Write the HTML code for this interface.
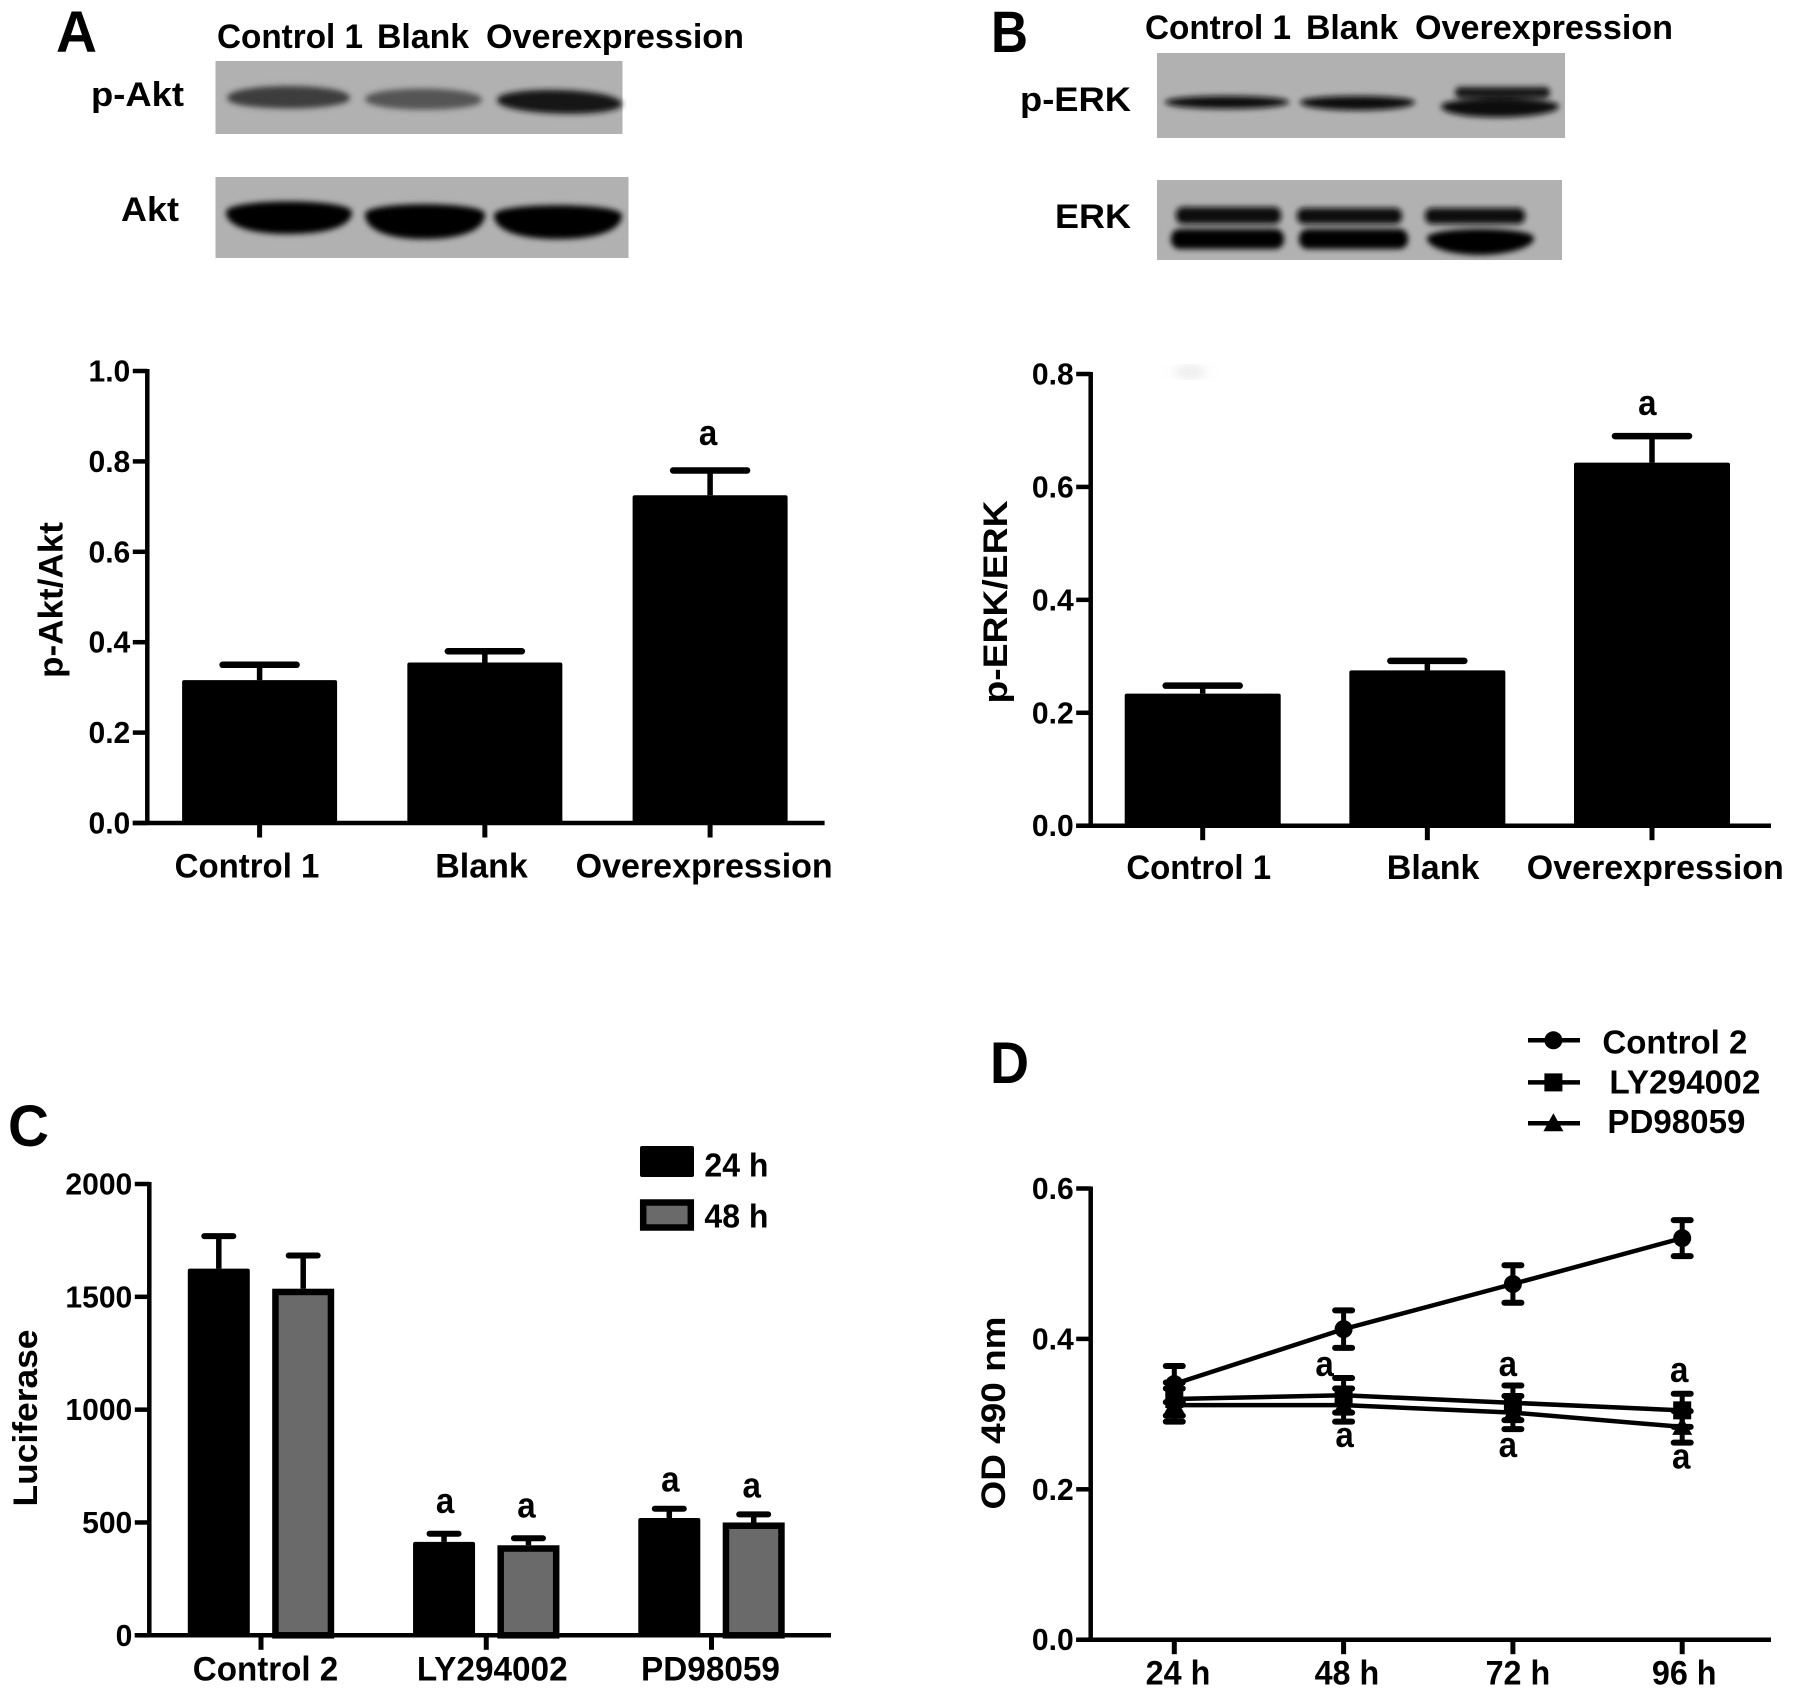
<!DOCTYPE html>
<html lang="en">
<head>
<meta charset="utf-8">
<title>Akt and ERK western blots, luciferase and OD 490 nm results</title>
<style>
html,body{margin:0;padding:0;background:#fff;}
svg{display:block;}
text{font-family:"Liberation Sans",Arial,sans-serif;font-weight:700;fill:#000;}
.panel{font-size:58px;}
.lbl{font-size:34px;}
.ytitle{font-size:34px;}
</style>
</head>
<body>
<svg id="figure" xmlns="http://www.w3.org/2000/svg" width="1795" height="1697" viewBox="0 0 1795 1697">
<defs>
<filter id="blur" x="-20%" y="-60%" width="140%" height="220%"><feGaussianBlur stdDeviation="3"/></filter>
<filter id="softblur" x="-50%" y="-50%" width="200%" height="200%"><feGaussianBlur stdDeviation="6"/></filter>
</defs>
<rect width="1795" height="1697" fill="#fff"/>

<text class="panel" x="56" y="52" textLength="41" lengthAdjust="spacingAndGlyphs">A</text>
<text class="panel" x="991" y="52" textLength="37" lengthAdjust="spacingAndGlyphs">B</text>
<text class="panel" x="8" y="1146" textLength="41" lengthAdjust="spacingAndGlyphs">C</text>
<text class="panel" x="990" y="1083" textLength="39" lengthAdjust="spacingAndGlyphs">D</text>

<g>
<text class="lbl" x="217" y="48" textLength="146" lengthAdjust="spacingAndGlyphs">Control 1</text>
<text class="lbl" x="377" y="48" textLength="92" lengthAdjust="spacingAndGlyphs">Blank</text>
<text class="lbl" x="486" y="48" textLength="258" lengthAdjust="spacingAndGlyphs">Overexpression</text>
</g>
<text class="lbl" x="91" y="106" textLength="93" lengthAdjust="spacingAndGlyphs">p-Akt</text>
<text class="lbl" x="121" y="221" textLength="58" lengthAdjust="spacingAndGlyphs">Akt</text>

<g>
<rect x="215.5" y="61" width="407" height="73" fill="#b1b1b1"/>
<g filter="url(#blur)">
<path d="M227 98C227 82 350 82 350 98C350 112 227 112 227 98Z" fill="#3d3d3d"/>
<path d="M365 99C365 85 482 85 482 100C482 113 365 113 365 99Z" fill="#555"/>
<path d="M497 100C497 85 620 87 622 104C622 119 497 116 497 100Z" fill="#151515"/>
</g>
</g>
<g>
<rect x="215.5" y="177" width="413" height="81" fill="#b1b1b1"/>
<g filter="url(#blur)">
<path d="M226 212C226 198 351 198 352 212C352 226 328 234 288 234C250 234 226 226 226 212Z" fill="#030303"/>
<path d="M365 214C365 201 484 201 485 214C485 230 462 239 424 239C388 239 365 230 365 214Z" fill="#000"/>
<path d="M494 215C494 202 621 202 622 215C622 230 598 239 558 239C518 239 494 230 494 215Z" fill="#030303"/>
</g>
</g>

<g>
<text class="lbl" x="1145" y="39" textLength="146" lengthAdjust="spacingAndGlyphs">Control 1</text>
<text class="lbl" x="1306" y="39" textLength="92" lengthAdjust="spacingAndGlyphs">Blank</text>
<text class="lbl" x="1415" y="39" textLength="258" lengthAdjust="spacingAndGlyphs">Overexpression</text>
</g>
<text class="lbl" x="1020" y="111" textLength="111" lengthAdjust="spacingAndGlyphs">p-ERK</text>
<text class="lbl" x="1055" y="228" textLength="76" lengthAdjust="spacingAndGlyphs">ERK</text>

<g>
<rect x="1157" y="53" width="408" height="85" fill="#b1b1b1"/>
<g filter="url(#blur)">
<path d="M1165 102C1165 94 1288 94 1289 102C1289 111 1165 111 1165 102Z" fill="#111"/>
<path d="M1300 102C1300 94 1414 94 1415 102C1415 113 1300 113 1300 102Z" fill="#111"/>
<rect x="1455" y="87" width="95" height="11" rx="5" fill="#141414"/>
<path d="M1441 106C1441 96 1558 96 1559 106C1559 120 1441 122 1441 106Z" fill="#090909"/>
</g>
</g>
<g>
<rect x="1157" y="180" width="405" height="80" fill="#b1b1b1"/>
<g filter="url(#blur)">
<rect x="1176" y="207" width="105" height="17" rx="7" fill="#080808"/>
<rect x="1171" y="229" width="113" height="20" rx="9" fill="#030303"/>
<rect x="1297" y="208" width="105" height="16" rx="7" fill="#080808"/>
<rect x="1299" y="229" width="109" height="20" rx="9" fill="#030303"/>
<rect x="1425" y="208" width="100" height="16" rx="7" fill="#080808"/>
<path d="M1427 238C1427 226 1534 226 1534 238C1534 248 1505 255 1480 255C1452 255 1427 248 1427 238Z" fill="#030303"/>
</g>
</g>
<ellipse cx="1190" cy="372" rx="16" ry="4" fill="#ddd" filter="url(#softblur)"/>

<text class="ytitle" transform="translate(62.5 600) rotate(-90)" text-anchor="middle" textLength="156" lengthAdjust="spacingAndGlyphs">p-Akt/Akt</text>
<text class="ytitle" transform="translate(1007 602) rotate(-90)" text-anchor="middle" textLength="203" lengthAdjust="spacingAndGlyphs">p-ERK/ERK</text>
<text class="ytitle" transform="translate(37 1418) rotate(-90)" text-anchor="middle" textLength="177" lengthAdjust="spacingAndGlyphs">Luciferase</text>
<text class="ytitle" transform="translate(1005 1413) rotate(-90)" text-anchor="middle" textLength="193" lengthAdjust="spacingAndGlyphs">OD 490 nm</text>

<g id="chart-a"></g>
<g id="chart-b"></g>
<g id="chart-c"></g>
<g id="chart-d"></g>
</svg>

<script>
// Panel A
const aCategories = ['Control 1', 'Blank', 'Overexpression'];
const aMeans = [0.316, 0.355, 0.725];
const aErrors = [0.034, 0.025, 0.055];
const aTicks = [0, 0.2, 0.4, 0.6, 0.8, 1.0];
const aTickLabels = ['0.0', '0.2', '0.4', '0.6', '0.8', '1.0'];
const aSignificance = ['', '', 'a'];

// Panel B
const bCategories = ['Control 1', 'Blank', 'Overexpression'];
const bMeans = [0.234, 0.275, 0.643];
const bErrors = [0.014, 0.017, 0.047];
const bTicks = [0, 0.2, 0.4, 0.6, 0.8];
const bTickLabels = ['0.0', '0.2', '0.4', '0.6', '0.8'];
const bSignificance = ['', '', 'a'];

// Panel C
const cCategories = ['Control 2', 'LY294002', 'PD98059'];
const cMeans24h = [1625, 414, 520];
const cErrors24h = [144, 36, 41];
const cMeans48h = [1536, 399, 500];
const cErrors48h = [147, 31, 36];
const cTicks = [0, 500, 1000, 1500, 2000];
const cTickLabels = ['0', '500', '1000', '1500', '2000'];
const cSignificance24h = ['', 'a', 'a'];
const cSignificance48h = ['', 'a', 'a'];

// Panel D
const dCategories = ['24 h', '48 h', '72 h', '96 h'];
const dControl2 = [0.34, 0.413, 0.473, 0.534];
const dControl2Errors = [0.024, 0.025, 0.025, 0.024];
const dLY294002 = [0.32, 0.325, 0.315, 0.305];
const dLY294002Errors = [0.022, 0.023, 0.023, 0.022];
const dPD98059 = [0.312, 0.312, 0.302, 0.283];
const dPD98059Errors = [0.022, 0.022, 0.022, 0.021];
const dTicks = [0, 0.2, 0.4, 0.6];
const dTickLabels = ['0.0', '0.2', '0.4', '0.6'];

const NS = 'http://www.w3.org/2000/svg';

function mk(parent, tag, name, props) {
  const el = document.createElementNS(NS, tag);
  
  
  for (const k in props) el.setAttribute(k, props[k]);
  parent.appendChild(el);
  return el;
}
function linear(d0, d1, r0, r1) {
  return v => r0 + (v - d0) * (r1 - r0) / (d1 - d0);
}
function band(first, step) {
  return i => first + i * step;
}
function txt(parent, name, str, x, y, size, anchor, squeeze) {
  const t = mk(parent, 'text', name, {x: x, y: y, 'font-size': size, 'text-anchor': anchor});
  t.textContent = str;
  if (squeeze && squeeze !== 1) {
    t.setAttribute('textLength', t.getComputedTextLength() * squeeze);
    t.setAttribute('lengthAdjust', 'spacingAndGlyphs');
  }
  return t;
}
function sigLabel(parent, x, y) {
  return txt(parent, 'significance-label', 'a', x, y, 36, 'middle', 0.92);
}
function line(parent, name, x1, y1, x2, y2, w, cap) {
  return mk(parent, 'line', name, {x1: x1, y1: y1, x2: x2, y2: y2, stroke: '#000', 'stroke-width': w, 'stroke-linecap': cap || 'butt'});
}
function yAxis(g, axisX, top, bottom, y, ticks, labels) {
  line(g, 'y-axis-line', axisX, top - 2, axisX, bottom + 2, 4.5);
  ticks.forEach((v, i) => {
    line(g, 'y-tick', axisX - 14.5, y(v), axisX, y(v), 4.5);
    txt(g, 'y-tick-label', labels[i], axisX - 17, y(v) + 10.5, 31, 'end', 0.97);
  });
}
function xAxis(g, axisX, right, baseY, x, cats, labelNudge, labelY, squeeze) {
  line(g, 'x-axis-line', axisX - 14.5, baseY, right, baseY, 4.5);
  cats.forEach((c, i) => {
    line(g, 'x-tick', x(i), baseY, x(i), baseY + 14.5, 5);
    txt(g, 'x-tick-label', c, x(i) + labelNudge[i], labelY, 34, 'middle', squeeze[i]);
  });
}
function errorUp(g, cx, y, mean, err, halfCap, stem, thick) {
  line(g, 'error-stem', cx, y(mean), cx, y(mean + err), stem);
  line(g, 'error-cap', cx - halfCap, y(mean + err), cx + halfCap, y(mean + err), thick, 'round');
}
function simpleBars(id, cats, means, errs, ticks, labels, sig, cfg) {
  const g = document.getElementById(id);
  const y = linear(0, ticks[ticks.length - 1], cfg.bottom, cfg.top);
  const x = band(cfg.first, cfg.step);
  cats.forEach((c, i) => {
    errorUp(g, x(i), y, means[i], errs[i], 37, 5.5, 6.5);
    mk(g, 'rect', 'bar-' + c.toLowerCase().replace(/\s+/g, '-'), {x: x(i) - cfg.barW / 2, y: y(means[i]), width: cfg.barW, height: cfg.bottom - y(means[i]), rx: 2, fill: '#000'});
    if (sig[i]) sigLabel(g, x(i) + cfg.sigDx, y(means[i] + errs[i]) + cfg.sigDy);
  });
  yAxis(g, cfg.axisX, cfg.top, cfg.bottom, y, ticks, labels);
  xAxis(g, cfg.axisX, cfg.right, cfg.bottom, x, cats, cfg.nudge, cfg.labelY, cfg.squeeze);
}

simpleBars('chart-a', aCategories, aMeans, aErrors, aTicks, aTickLabels, aSignificance,
  {top: 371, bottom: 823, axisX: 147.3, right: 824.6, first: 259.6, step: 225.25, barW: 155, labelY: 877.3, nudge: [-12.6, -3.35, -5.9], squeeze: [0.97, 1, 1], sigDx: -2, sigDy: -25.5});
simpleBars('chart-b', bCategories, bMeans, bErrors, bTicks, bTickLabels, bSignificance,
  {top: 374, bottom: 825.7, axisX: 1090.7, right: 1771, first: 1202.7, step: 224.65, barW: 156, labelY: 879, nudge: [-4, 5.75, 3.3], squeeze: [0.97, 1, 1], sigDx: -4.7, sigDy: -21});

(function drawC() {
  const g = document.getElementById('chart-c');
  const top = 1184, bottom = 1635.3, axisX = 149.3;
  const y = linear(0, 2000, bottom, top);
  const x = band(261, 225.25);
  const off = 42.2, w = 62, bw = 6.5;
  cCategories.forEach((c, i) => {
    const x1 = x(i) - off, x2 = x(i) + off;
    errorUp(g, x1, y, cMeans24h[i], cErrors24h[i], 14.5, 5.5, 6);
    mk(g, 'rect', 'bar-24h', {x: x1 - w / 2, y: y(cMeans24h[i]), width: w, height: bottom - y(cMeans24h[i]), rx: 2, fill: '#000'});
    errorUp(g, x2, y, cMeans48h[i], cErrors48h[i], 14.5, 5.5, 6);
    mk(g, 'rect', 'bar-48h', {x: x2 - w / 2 + bw / 2, y: y(cMeans48h[i]) + bw / 2, width: w - bw, height: bottom - y(cMeans48h[i]) - bw / 2, fill: '#6a6a6a', stroke: '#000', 'stroke-width': bw});
    const lift = i === 2 ? -17 : -21;
    if (cSignificance24h[i]) sigLabel(g, x1 + 1, y(cMeans24h[i] + cErrors24h[i]) + lift);
    if (cSignificance48h[i]) sigLabel(g, x2 - 2, y(cMeans48h[i] + cErrors48h[i]) + lift);
  });
  yAxis(g, axisX, top, bottom, y, cTicks, cTickLabels);
  xAxis(g, axisX, 831, bottom, x, cCategories, [4.5, 6, -1], 1680.5, [0.975, 0.98, 0.98]);
  const swatch = mk(g, 'g', 'legend-24h', {});
  mk(swatch, 'rect', 'legend-swatch-24h', {x: 640, y: 1146, width: 54, height: 31, rx: 2, fill: '#000'});
  txt(swatch, 'legend-label-24h', '24 h', 704.4, 1176.3, 33, 'start', 0.97);
  const swatch2 = mk(g, 'g', 'legend-48h', {});
  mk(swatch2, 'rect', 'legend-swatch-48h', {x: 643.2, y: 1202.5, width: 47.6, height: 25, fill: '#6a6a6a', stroke: '#000', 'stroke-width': 6.5});
  txt(swatch2, 'legend-label-48h', '48 h', 704.4, 1227.3, 33, 'start', 0.97);
})();

(function drawD() {
  const g = document.getElementById('chart-d');
  const top = 1188.5, bottom = 1639.7, axisX = 1090.7;
  const y = linear(0, 0.6, bottom, top);
  const x = band(1174.3, 169.3);
  function marker(p, kind, cx, cy, name) {
    if (kind === 'circle') mk(p, 'circle', name, {cx: cx, cy: cy, r: 9, fill: '#000'});
    else if (kind === 'square') mk(p, 'rect', name, {x: cx - 9, y: cy - 9, width: 18, height: 18, fill: '#000'});
    else mk(p, 'path', name, {d: 'M' + (cx - 10) + ' ' + (cy + 8) + 'L' + cx + ' ' + (cy - 10) + 'L' + (cx + 10) + ' ' + (cy + 8) + 'Z', fill: '#000'});
  }
  function series(name, kind, means, errs) {
    const s = mk(g, 'g', 'series-' + name, {});
    mk(s, 'polyline', 'series-line-' + name, {points: means.map((v, i) => x(i) + ',' + y(v)).join(' '), fill: 'none', stroke: '#000', 'stroke-width': 4.5});
    means.forEach((v, i) => {
      line(s, 'error-stem', x(i), y(v - errs[i]), x(i), y(v + errs[i]), 5);
      line(s, 'error-cap', x(i) - 8.5, y(v + errs[i]), x(i) + 8.5, y(v + errs[i]), 6, 'round');
      line(s, 'error-cap', x(i) - 8.5, y(v - errs[i]), x(i) + 8.5, y(v - errs[i]), 6, 'round');
      marker(s, kind, x(i), y(v), 'marker-' + name);
    });
  }
  series('control-2', 'circle', dControl2, dControl2Errors);
  series('ly294002', 'square', dLY294002, dLY294002Errors);
  series('pd98059', 'triangle', dPD98059, dPD98059Errors);
  yAxis(g, axisX, top, bottom, y, dTicks, dTickLabels);
  xAxis(g, axisX, 1771, bottom, x, dCategories, [3.7, 3.3, 5, 2], 1684.7, [0.95, 0.95, 0.95, 0.95]);

  [[1, -19, -2], [2, -5, -9.3], [3, -3, -11.8]].forEach(u => {
    sigLabel(g, x(u[0]) + u[1], y(dLY294002[u[0]] + dLY294002Errors[u[0]]) + u[2]);
  });
  [[1, 1, 25.4], [2, -5, 27.9], [3, -1, 25.7]].forEach(u => {
    sigLabel(g, x(u[0]) + u[1], y(dPD98059[u[0]] - dPD98059Errors[u[0]]) + u[2]);
  });

  const entries = [['Control 2', 'circle', 1040.3, 1602.4, 145, 1053.4], ['LY294002', 'square', 1082.4, 1609.4, 151, 1093.3], ['PD98059', 'triangle', 1123.3, 1607.4, 138, 1133]];
  entries.forEach(e => {
    const l = mk(g, 'g', 'legend-entry', {});
    line(l, 'legend-line', 1528, e[2], 1580, e[2], 4.5);
    marker(l, e[1], 1553.4, e[2], 'legend-marker');
    const t = txt(l, 'legend-label', e[0], e[3], e[5], 33, 'start');
    t.setAttribute('textLength', e[4]);
    t.setAttribute('lengthAdjust', 'spacingAndGlyphs');
  });
})();
</script>
</body>
</html>
